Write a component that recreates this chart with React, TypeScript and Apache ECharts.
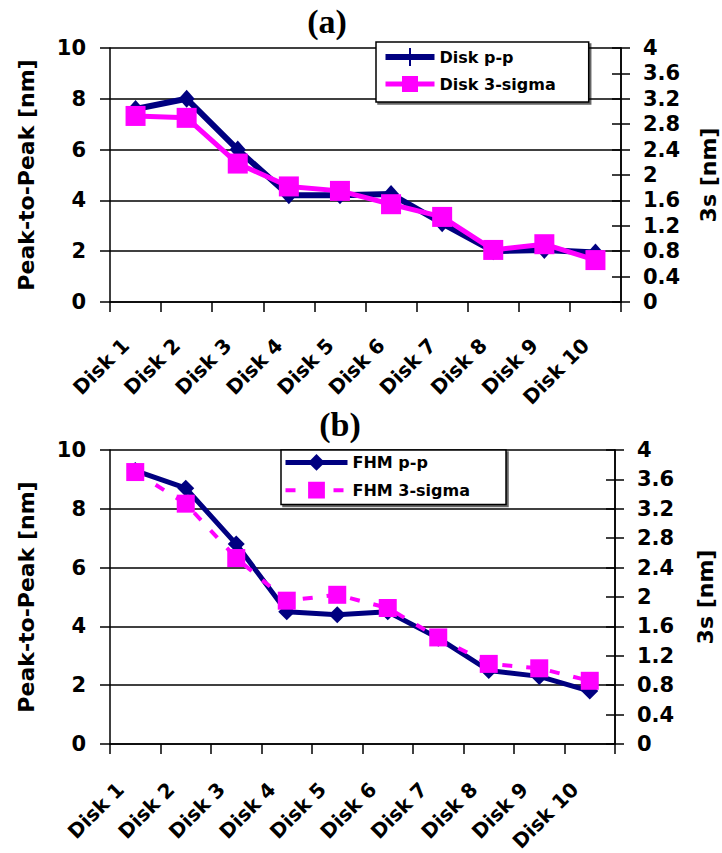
import React, { useEffect, useRef } from "react";
import * as echarts from "echarts";

const categories = ["Disk 1", "Disk 2", "Disk 3", "Disk 4", "Disk 5", "Disk 6", "Disk 7", "Disk 8", "Disk 9", "Disk 10"];
const diskPP = [7.6, 8.0, 6.0, 4.2, 4.2, 4.25, 3.1, 2.0, 2.05, 1.95];
const disk3Sigma = [2.93, 2.9, 2.18, 1.82, 1.75, 1.54, 1.34, 0.82, 0.91, 0.66];
const fhmPP = [9.3, 8.7, 6.8, 4.5, 4.4, 4.5, 3.6, 2.5, 2.3, 1.8];
const fhm3Sigma = [3.7, 3.27, 2.53, 1.95, 2.03, 1.85, 1.45, 1.09, 1.03, 0.86];
const leftAxisName = "Peak-to-Peak [nm]";
const rightAxisName = "3s [nm]";
const panelTitles = ["(a)", "(b)"];

const NAVY = "#000080";
const PINK = "#FF00FF";
const FONT = "DejaVu Sans";

function xAxisFor(gridIndex: number, margin: number, shift: number) {
  return {
    type: "category",
    gridIndex,
    data: categories,
    boundaryGap: true,
    axisLine: { show: true, lineStyle: { color: "#000", width: 1.5 } },
    axisTick: { show: true, interval: 0, length: 10, lineStyle: { color: "#000", width: 1.5 } },
    axisLabel: {
      interval: 0,
      rotate: 45,
      margin,
      color: "#000",
      fontFamily: FONT,
      fontWeight: "bold",
      fontSize: 20,
      formatter: (v: string) => `{p|${v}}`,
      rich: {
        p: {
          padding: [0, shift, 0, 0],
          color: "#000",
          fontFamily: FONT,
          fontWeight: "bold",
          fontSize: 20,
        },
      },
    },
    splitLine: { show: false },
  };
}

function leftAxis(gridIndex: number) {
  return {
    type: "value",
    gridIndex,
    position: "left",
    min: 0,
    max: 10,
    interval: 2,
    name: leftAxisName,
    nameLocation: "middle",
    nameGap: 73,
    nameRotate: 90,
    nameTextStyle: { color: "#000", fontFamily: FONT, fontWeight: "bold", fontSize: 22 },
    axisLine: { show: true, lineStyle: { color: "#000", width: 1.5 } },
    axisTick: { show: true, length: 10, lineStyle: { color: "#000", width: 1.5 } },
    axisLabel: { margin: 24, color: "#000", fontFamily: FONT, fontWeight: "bold", fontSize: 21 },
    splitLine: { show: true, lineStyle: { color: "#000", width: 1.5 } },
  };
}

function rightAxis(gridIndex: number, nameGap: number) {
  return {
    type: "value",
    gridIndex,
    position: "right",
    min: 0,
    max: 4,
    interval: 0.4,
    name: rightAxisName,
    nameLocation: "middle",
    nameGap,
    nameRotate: 90,
    nameTextStyle: { color: "#000", fontFamily: FONT, fontWeight: "bold", fontSize: 22 },
    axisLine: { show: true, lineStyle: { color: "#000", width: 1.5 } },
    axisTick: { show: true, length: 9, lineStyle: { color: "#000", width: 1.5 } },
    axisLabel: { margin: 22, color: "#000", fontFamily: FONT, fontWeight: "bold", fontSize: 21 },
    splitLine: { show: false },
  };
}

function rightInnerTicks(gridIndex: number) {
  return {
    type: "value",
    gridIndex,
    position: "right",
    min: 0,
    max: 4,
    interval: 0.4,
    axisLine: { show: true, lineStyle: { color: "#000", width: 1.5 } },
    axisTick: { show: true, inside: true, length: 9, lineStyle: { color: "#000", width: 1.5 } },
    axisLabel: { show: false },
    splitLine: { show: false },
  };
}

const legendText = { color: "#000", fontFamily: FONT, fontWeight: "bold", fontSize: 16 };

export default function App() {
  const ref = useRef<HTMLDivElement>(null);
  useEffect(() => {
    if (!ref.current) return;
    const chart = echarts.init(ref.current, null, { renderer: "svg" });
    const option: any = {
      animation: false,
      backgroundColor: "#fff",
      grid: [
        { left: 110, top: 48, width: 511, height: 254, containLabel: false, outerBoundsMode: "none" },
        { left: 110, top: 450, width: 505, height: 294, containLabel: false, outerBoundsMode: "none" },
      ],
      xAxis: [xAxisFor(0, 30, 14), xAxisFor(1, 27, 21)],
      yAxis: [
        leftAxis(0),
        rightAxis(0, 76),
        rightInnerTicks(0),
        leftAxis(1),
        rightAxis(1, 79),
        rightInnerTicks(1),
      ],
      legend: [
        {
          data: [
            { name: "Disk p-p", icon: "path://M0,6L49,6L49,12L0,12Z M23.5,0L25.5,0L25.5,18L23.5,18Z" },
            { name: "Disk 3-sigma" },
          ],
          orient: "vertical",
          left: 376,
          top: 42,
          itemWidth: 49,
          itemHeight: 20,
          itemGap: 10,
          padding: [6, 33, 10, 7],
          borderColor: "#000",
          borderWidth: 1.5,
          backgroundColor: "#fff",
          shadowColor: "rgba(0,0,0,0.6)",
          shadowOffsetX: 2,
          shadowOffsetY: 2,
          lineStyle: { width: "inherit" },
          textStyle: legendText,
        },
        {
          data: [{ name: "FHM p-p" }, { name: "FHM 3-sigma" }],
          orient: "vertical",
          left: 281,
          top: 450,
          itemWidth: 62,
          itemHeight: 21,
          itemGap: 11,
          padding: [4, 36, 6, 2],
          borderColor: "#000",
          borderWidth: 1.5,
          backgroundColor: "#fff",
          shadowColor: "rgba(0,0,0,0.6)",
          shadowOffsetX: 2,
          shadowOffsetY: 2,
          lineStyle: { width: "inherit" },
          textStyle: legendText,
        },
      ],
      graphic: [
        {
          type: "text",
          x: 327,
          y: 21,
          style: {
            text: panelTitles[0],
            font: 'bold 34px "Liberation Serif"',
            textAlign: "center",
            textVerticalAlign: "middle",
            fill: "#000",
          },
        },
        {
          type: "text",
          x: 340,
          y: 424,
          style: {
            text: panelTitles[1],
            font: 'bold 34px "Liberation Serif"',
            textAlign: "center",
            textVerticalAlign: "middle",
            fill: "#000",
          },
        },
      ],
      series: [
        {
          name: "Disk p-p",
          type: "line",
          xAxisIndex: 0,
          yAxisIndex: 0,
          data: diskPP,
          color: NAVY,
          lineStyle: { color: NAVY, width: 6 },
          symbol: "diamond",
          symbolSize: [16, 18],
          itemStyle: { color: NAVY, borderWidth: 0 },
          z: 2,
        },
        {
          name: "Disk 3-sigma",
          type: "line",
          xAxisIndex: 0,
          yAxisIndex: 1,
          data: disk3Sigma,
          color: PINK,
          lineStyle: { color: PINK, width: 5 },
          symbol: "rect",
          symbolSize: 20,
          itemStyle: { color: PINK, borderWidth: 0 },
          z: 3,
        },
        {
          name: "FHM p-p",
          type: "line",
          xAxisIndex: 1,
          yAxisIndex: 3,
          data: fhmPP,
          color: NAVY,
          lineStyle: { color: NAVY, width: 5 },
          symbol: "diamond",
          symbolSize: 17,
          itemStyle: { color: NAVY, borderWidth: 0 },
          z: 2,
        },
        {
          name: "FHM 3-sigma",
          type: "line",
          xAxisIndex: 1,
          yAxisIndex: 4,
          data: fhm3Sigma,
          color: PINK,
          lineStyle: { color: PINK, width: 4, type: [10, 14] },
          symbol: "rect",
          symbolSize: 18,
          itemStyle: { color: PINK, borderWidth: 0 },
          z: 3,
        },
      ],
    };
    chart.setOption(option);
    return () => chart.dispose();
  }, []);
  return <div ref={ref} style={{ position: "absolute", left: 0, top: 0, width: 722, height: 853 }} />;
}
